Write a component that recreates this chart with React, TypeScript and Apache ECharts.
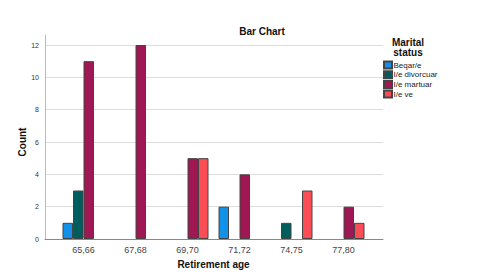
import React, { useEffect, useRef } from "react";
import * as echarts from "echarts";

const categories = ["65,66", "67,68", "69,70", "71,72", "74,75", "77,80"];
const seriesNames = ["Beqar/e", "I/e divorcuar", "I/e martuar", "I/e ve"];
const beqar = [1, 0, 0, 2, 0, 0];
const divorcuar = [3, 0, 0, 0, 1, 0];
const martuar = [11, 12, 5, 4, 0, 2];
const ve = [0, 0, 5, 0, 3, 1];
const colors = ["#1192e8", "#005d5d", "#9f1853", "#fa4d56"];
const yTicks = [0, 2, 4, 6, 8, 10, 12];

const FONT = "Liberation Sans, Arial, sans-serif";

export default function App() {
  const ref = useRef<HTMLDivElement>(null);
  useEffect(() => {
    if (!ref.current) return;
    const chart = echarts.init(ref.current, undefined, { renderer: "svg" });
    const values = [beqar, divorcuar, martuar, ve];
    chart.setOption({
      animation: false,
      textStyle: { fontFamily: FONT },
      title: {
        text: "Bar Chart",
        left: 257,
        top: 21,
        textAlign: "center",
        textStyle: { fontSize: 10, fontWeight: "bold", color: "#111", fontFamily: FONT },
      },
      legend: {
        orient: "vertical",
        left: 383,
        top: 60.5,
        padding: 0,
        itemWidth: 8,
        itemHeight: 7,
        itemGap: 0.7,
        icon: "rect",
        data: seriesNames,
        textStyle: {
          fontSize: 8,
          lineHeight: 8,
          color: "#222",
          padding: [0, 0, 0, -3.5],
          fontFamily: FONT,
        },
      },
      graphic: [
        {
          type: "text",
          x: 408,
          y: 37,
          style: {
            text: "Marital\nstatus",
            fontSize: 10,
            fontWeight: "bold",
            fill: "#111",
            align: "center",
            verticalAlign: "top",
            lineHeight: 10,
            fontFamily: FONT,
          },
        },
        {
          type: "line",
          shape: { x1: 45.5, y1: 35, x2: 45.5, y2: 45 },
          style: { stroke: "#bbb", lineWidth: 1 },
        },
      ],
      grid: [
        { left: 45, right: 97, top: 45, bottom: 35 },
        { left: 57.5, right: 110.5, top: 45, bottom: 35 },
      ],
      xAxis: [
        {
          gridIndex: 0,
          type: "category",
          data: categories,
          axisLine: { show: true, lineStyle: { color: "#888", width: 1 } },
          axisTick: { show: false },
          axisLabel: { show: false },
          splitLine: { show: false },
        },
        {
          gridIndex: 1,
          type: "category",
          data: categories,
          axisLine: { show: false },
          axisTick: { show: false },
          axisLabel: { color: "#444", fontSize: 9, margin: 6, fontFamily: FONT },
          name: "Retirement age",
          nameLocation: "middle",
          nameGap: 20,
          nameMoveOverlap: false,
          nameTextStyle: { fontSize: 10, fontWeight: "bold", color: "#111", fontFamily: FONT },
        },
      ],
      yAxis: [
        {
          gridIndex: 0,
          type: "value",
          min: 0,
          max: yTicks[yTicks.length - 1],
          interval: 2,
          axisLine: { show: true, lineStyle: { color: "#bbb", width: 1 } },
          axisTick: { show: false },
          axisLabel: { color: "#333", fontSize: 7, margin: 6, fontFamily: FONT },
          splitLine: { show: true, lineStyle: { color: "#ddd", width: 1 } },
          name: "Count",
          nameLocation: "middle",
          nameGap: 18,
          nameMoveOverlap: false,
          nameTextStyle: { fontSize: 10, fontWeight: "bold", color: "#111", fontFamily: FONT },
        },
        {
          gridIndex: 1,
          type: "value",
          min: 0,
          max: yTicks[yTicks.length - 1],
          interval: 2,
          show: false,
          splitLine: { show: false },
        },
      ],
      series: seriesNames.map((name, i) => ({
        name,
        type: "bar",
        xAxisIndex: 1,
        yAxisIndex: 1,
        barWidth: 10.5,
        barGap: "0%",
        data: values[i].map((v) => (v === 0 ? null : v)),
        itemStyle: { color: colors[i], borderColor: "#444", borderWidth: 1 },
      })),
    });
    return () => chart.dispose();
  }, []);
  return <div ref={ref} style={{ width: 480, height: 274, position: "absolute", left: 0, top: 0 }} />;
}
